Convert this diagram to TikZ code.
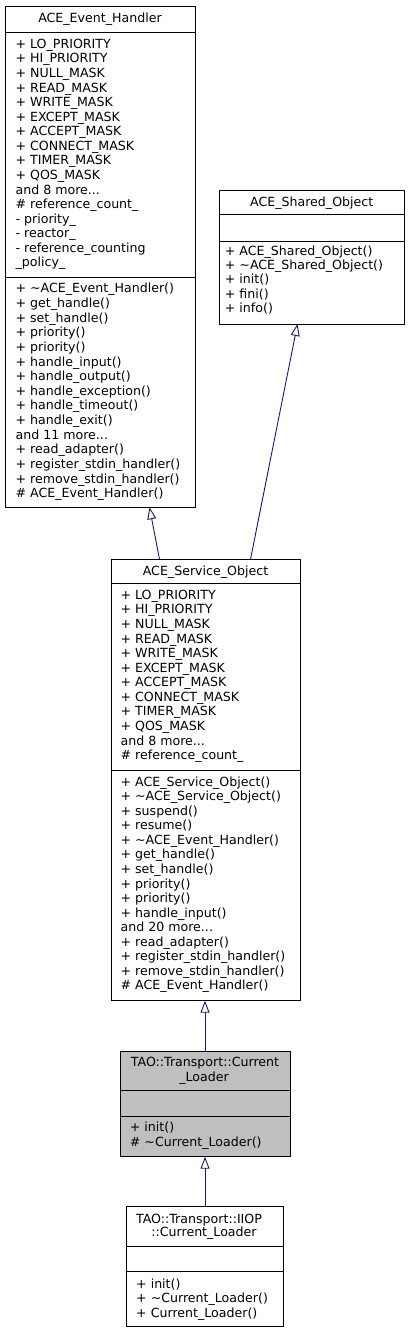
\documentclass[tikz,border=0pt]{standalone}
\usepackage{fontspec}
\setmainfont{DejaVu Sans}
\usetikzlibrary{arrows.meta,calc}
\definecolor{edgeblue}{HTML}{191970}
\definecolor{curfill}{HTML}{BFBFBF}
\begin{document}
\begin{tikzpicture}[x=1pt,y=-1pt,
  classbox/.style={draw=black, line width=0.9pt, anchor=north west, inner sep=0pt, outer sep=0pt, fill=white},
  txt/.style={anchor=base west, inner sep=0pt, font=\fontsize{12.6}{14.6}\selectfont},
  ttl/.style={anchor=base, inner sep=0pt, font=\fontsize{12.6}{14.6}\selectfont},
  inh/.style={draw=edgeblue, line width=0.9pt, -{Triangle[open,length=12pt,width=9pt]}},
  sepline/.style={draw=black, line width=0.9pt}]
\useasboundingbox (0,0) rectangle (409,1333);

% ---------- ACE_Event_Handler ----------
\node[classbox, minimum width=190pt, minimum height=501.3pt] (aeh) at (5,6) {};
\draw[sepline] ($(aeh.north west)+(0,26)$) -- ($(aeh.north east)+(0,26)$);
\draw[sepline] ($(aeh.north west)+(0,271)$) -- ($(aeh.north east)+(0,271)$);
\node[ttl] (aeh-title) at (100,22.7) {ACE\_Event\_Handler};
\foreach \t [count=\i] in {+ LO\_PRIORITY, + HI\_PRIORITY, + NULL\_MASK, + READ\_MASK, + WRITE\_MASK, + EXCEPT\_MASK, + ACCEPT\_MASK, + CONNECT\_MASK, + TIMER\_MASK, + QOS\_MASK, and 8 more.{}.{}., \# reference\_count\_, - priority\_, - reactor\_, - reference\_counting, \_policy\_}
  \node[txt] (aeh-a\i) at (15.4,{48.3+(\i-1)*14.57}) {\t};
\foreach \t [count=\i] in {+ \textasciitilde{}ACE\_Event\_Handler(), + get\_handle(), + set\_handle(), + priority(), + priority(), + handle\_input(), + handle\_output(), + handle\_exception(), + handle\_timeout(), + handle\_exit(), and 11 more.{}.{}., + read\_adapter(), + register\_stdin\_handler(), + remove\_stdin\_handler(), \# ACE\_Event\_Handler()}
  \node[txt] (aeh-m\i) at (15.4,{292.7+(\i-1)*14.66}) {\t};

% ---------- ACE_Shared_Object ----------
\node[classbox, minimum width=185.3pt, minimum height=134pt] (aso) at (219,190) {};
\draw[sepline] ($(aso.north west)+(0,24.3)$) -- ($(aso.north east)+(0,24.3)$);
\draw[sepline] ($(aso.north west)+(0,51)$) -- ($(aso.north east)+(0,51)$);
\node[ttl] (aso-title) at (311.7,206) {ACE\_Shared\_Object};
\foreach \t [count=\i] in {+ ACE\_Shared\_Object(), + \textasciitilde{}ACE\_Shared\_Object(), + init(), + fini(), + info()}
  \node[txt] (aso-m\i) at (224.7,{255+(\i-1)*14.4}) {\t};

% ---------- ACE_Service_Object ----------
\node[classbox, minimum width=189pt, minimum height=441.4pt] (svc) at (111,559.3) {};
\draw[sepline] ($(svc.north west)+(0,24)$) -- ($(svc.north east)+(0,24)$);
\draw[sepline] ($(svc.north west)+(0,211.4)$) -- ($(svc.north east)+(0,211.4)$);
\node[ttl] (svc-title) at (205.5,575) {ACE\_Service\_Object};
\foreach \t [count=\i] in {+ LO\_PRIORITY, + HI\_PRIORITY, + NULL\_MASK, + READ\_MASK, + WRITE\_MASK, + EXCEPT\_MASK, + ACCEPT\_MASK, + CONNECT\_MASK, + TIMER\_MASK, + QOS\_MASK, and 8 more.{}.{}., \# reference\_count\_}
  \node[txt] (svc-a\i) at (120.4,{599.3+(\i-1)*14.57}) {\t};
\foreach \t [count=\i] in {+ ACE\_Service\_Object(), + \textasciitilde{}ACE\_Service\_Object(), + suspend(), + resume(), + \textasciitilde{}ACE\_Event\_Handler(), + get\_handle(), + set\_handle(), + priority(), + priority(), + handle\_input(), and 20 more.{}.{}., + read\_adapter(), + register\_stdin\_handler(), + remove\_stdin\_handler(), \# ACE\_Event\_Handler()}
  \node[txt] (svc-m\i) at (120.4,{786+(\i-1)*14.57}) {\t};

% ---------- TAO::Transport::Current_Loader ----------
\node[classbox, fill=curfill, minimum width=170.7pt, minimum height=105.7pt] (cl) at (120,1051) {};
\draw[sepline] ($(cl.north west)+(0,39)$) -- ($(cl.north east)+(0,39)$);
\draw[sepline] ($(cl.north west)+(0,65.7)$) -- ($(cl.north east)+(0,65.7)$);
\node[ttl] (cl-title1) at (205,1066.7) {TAO::Transport::Current};
\node[ttl] (cl-title2) at (204,1081.7) {\_Loader};
\node[txt] (cl-m1) at (129.7,1131.7) {+ init()};
\node[txt] (cl-m2) at (129.7,1146.3) {\# \textasciitilde{}Current\_Loader()};

% ---------- TAO::Transport::IIOP::Current_Loader ----------
\node[classbox, minimum width=157pt, minimum height=119.3pt] (iiop) at (126.7,1206.7) {};
\draw[sepline] ($(iiop.north west)+(0,40)$) -- ($(iiop.north east)+(0,40)$);
\draw[sepline] ($(iiop.north west)+(0,65)$) -- ($(iiop.north east)+(0,65)$);
\node[ttl] (iiop-title1) at (199,1223.3) {TAO::Transport::IIOP};
\node[ttl] (iiop-title2) at (204,1236.7) {::Current\_Loader};
\foreach \t [count=\i] in {+ init(), + \textasciitilde{}Current\_Loader(), + Current\_Loader()}
  \node[txt] (iiop-m\i) at (136,{1288.3+(\i-1)*14.4}) {\t};

% ---------- inheritance connectors ----------
\coordinate (e1s) at ($(svc.north west)+(48.5,0)$);
\coordinate (e1t) at ($(aeh.south west)+(144.5,0)$);
\coordinate (e2s) at ($(svc.north west)+(139.5,0)$);
\coordinate (e2t) at ($(aso.south west)+(78.5,0)$);
\coordinate (e3s) at ($(cl.north west)+(85,0)$);
\coordinate (e3t) at ($(svc.south west)+(94,0)$);
\coordinate (e4s) at ($(iiop.north west)+(78.3,0)$);
\coordinate (e4t) at ($(cl.south west)+(85,0)$);
\draw[inh] (e1s) -- (e1t);
\draw[inh] (e2s) -- (e2t);
\draw[inh] (e3s) -- (e3t);
\draw[inh] (e4s) -- (e4t);
\end{tikzpicture}
\end{document}
